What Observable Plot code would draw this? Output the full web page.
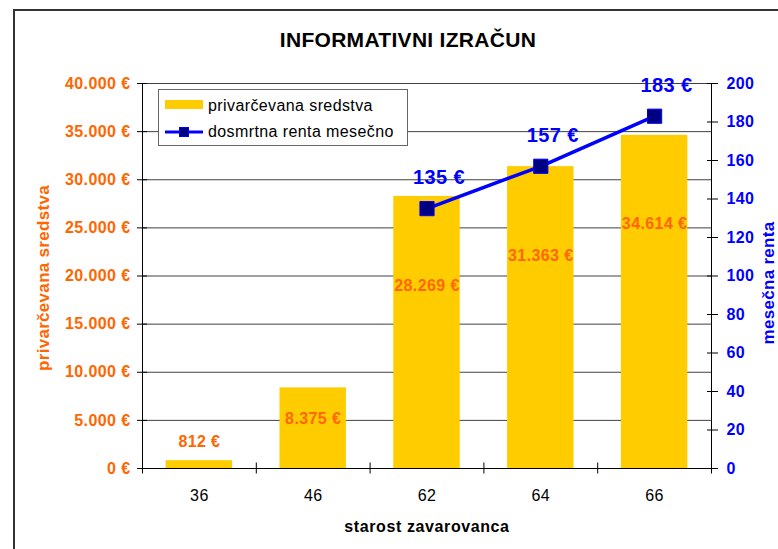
<!DOCTYPE html>
<html>
<head>
<meta charset="utf-8">
<script src="https://cdn.jsdelivr.net/npm/d3@7"></script>
<script src="https://cdn.jsdelivr.net/npm/@observablehq/plot@0.6"></script>
<style>
  body { margin: 0; background: #fff; font-family: "Liberation Sans", Arial, sans-serif; }
  #wrap { position: relative; width: 778px; height: 549px; overflow: hidden; background: #fff; }
  #frame { position: absolute; left: 13px; top: 9px; width: 900px; height: 700px; border: 2px solid #333; }
  #chart { position: absolute; left: 0; top: 65px; }
  #title { position: absolute; left: 0; top: 28px; width: 778px; padding-left: 38px; box-sizing: border-box;
           text-align: center; font-weight: bold; font-size: 21px; line-height: 24px; letter-spacing: 0.3px; color: #000; }
  .rot { position: absolute; white-space: nowrap; font-weight: bold; font-size: 17px; line-height: 17px;
         transform: translate(-50%, -50%) rotate(-90deg); letter-spacing: 0.3px; }
  #xtitle { position: absolute; left: 0; top: 517px; width: 854px; text-align: center; font-weight: bold;
            font-size: 16px; line-height: 20px; letter-spacing: 0.6px; color: #000; }
  #legend { position: absolute; left: 158px; top: 89px; width: 248px; height: 55px; border: 1px solid #666; background: #fff; }
  .lg { position: absolute; font-size: 16px; line-height: 20px; letter-spacing: 0.4px; color: #000; white-space: nowrap; }
</style>
</head>
<body>
<div id="wrap">
  <div id="frame"></div>
  <div id="title">INFORMATIVNI IZRAČUN</div>
  <div id="chart"></div>
  <div class="rot" style="left:43px; top:278px; color:#FF6600;">privarčevana sredstva</div>
  <div class="rot" style="left:768px; top:283px; color:#0000FF;">mesečna renta</div>
  <div id="xtitle">starost zavarovanca</div>
  <div id="legend"></div>
</div>
<script>
// ---- data ----
const ages = ["36", "46", "62", "64", "66"];
const savings = [812, 8375, 28269, 31363, 34614];      // privarčevana sredstva (€)
const rent = [null, null, 135, 157, 183];              // dosmrtna renta mesečno (€)
const leftTicks = [0, 5000, 10000, 15000, 20000, 25000, 30000, 35000, 40000];
const rightTicks = [0, 20, 40, 60, 80, 100, 120, 140, 160, 180, 200];
const seriesNames = ["privarčevana sredstva", "dosmrtna renta mesečno"];

// ---- derived ----
const K = leftTicks[leftTicks.length - 1] / rightTicks[rightTicks.length - 1]; // 200
const data = ages.map((age, i) => ({ i, age, value: savings[i], rent: rent[i] }));
const rentData = data.filter(d => d.rent != null);
const bounds = [-0.5, ...data.map(d => d.i + 0.5)];
const loc = d3.formatLocale({ decimal: ",", thousands: ".", grouping: [3], currency: ["", " €"] });
const fmt = loc.format(",.0f");
const euro = v => fmt(v) + " €";

const ORANGE = "#FF6600", BLUE = "#0000FF", NAVY = "#000080", GOLD = "#FFCC00";
const half = 0.292;

const chart = Plot.plot({
  width: 778,
  height: 484,
  marginTop: 18,
  marginBottom: 81,
  marginLeft: 142,
  marginRight: 67,
  x: { type: "linear", domain: [-0.5, ages.length - 0.5], axis: null },
  y: { domain: [0, 40000], axis: null },
  style: { fontFamily: '"Liberation Sans", Arial, sans-serif', fontSize: "16px", background: "transparent", overflow: "visible" },
  marks: [
    Plot.gridY(leftTicks.filter(v => v > 0), { stroke: "#404040", strokeOpacity: 1, strokeWidth: 1 }),
    Plot.rectY(data, { x1: d => d.i - half, x2: d => d.i + half, y: "value", fill: GOLD }),
    // axis lines
    Plot.ruleX([-0.5], { stroke: "#000" }),
    Plot.ruleX([ages.length - 0.5], { stroke: "#000" }),
    Plot.ruleY([0], { stroke: "#000" }),
    // left axis
    Plot.axisY(leftTicks, { anchor: "left", tickSize: 10, dx: 5, tickFormat: () => "", label: null, stroke: "#000" }),
    Plot.axisY(leftTicks, { anchor: "left", tickSize: 0, tickPadding: 12, tickFormat: euro, label: null,
      fill: ORANGE, fontWeight: "bold", fontSize: 16 }),
    // right axis
    Plot.axisY(rightTicks.map(v => v * K), { anchor: "right", tickSize: 11, dx: -5, tickFormat: () => "", label: null, stroke: "#000" }),
    Plot.axisY(rightTicks.map(v => v * K), { anchor: "right", tickSize: 0, tickPadding: 15, tickFormat: d => d / K, label: null,
      fill: BLUE, fontWeight: "bold", fontSize: 16 }),
    // x axis
    Plot.axisX(bounds, { anchor: "bottom", tickSize: 11, dy: -5.5, tickFormat: () => "", label: null, stroke: "#000" }),
    Plot.axisX(data.map(d => d.i), { anchor: "bottom", tickSize: 0, tickPadding: 21, tickFormat: i => ages[i], label: null,
      fill: "#000", fontSize: 16 }),
    // bar labels
    Plot.text(data.filter(d => d.value < 2000), { x: "i", y: "value", text: d => euro(d.value), dy: -19,
      fill: ORANGE, fontWeight: "bold", fontSize: 16 }),
    Plot.text(data.filter(d => d.value >= 2000 && d.value < 20000), { x: "i", y: "value", text: d => euro(d.value), dy: 31,
      fill: ORANGE, fontWeight: "bold", fontSize: 16 }),
    Plot.text(data.filter(d => d.value >= 20000), { x: "i", y: "value", text: d => euro(d.value), dy: 89,
      fill: ORANGE, fontWeight: "bold", fontSize: 16 }),
    // rent line
    Plot.line(rentData, { x: "i", y: d => d.rent * K, stroke: BLUE, strokeWidth: 3.5 }),
    Plot.dot(rentData, { x: "i", y: d => d.rent * K, symbol: "square", r: 8, fill: NAVY, stroke: BLUE, strokeWidth: 1 }),
    Plot.text(rentData, { x: "i", y: d => d.rent * K, text: d => `${d.rent} €`, dx: 12, dy: -31,
      fill: BLUE, fontWeight: "bold", fontSize: 20 })
  ]
});
chart.style.letterSpacing = "0.4px";
document.getElementById("chart").appendChild(chart);

// legend
const lg = document.getElementById("legend");
lg.innerHTML = `
  <div style="position:absolute; left:6px; top:10px; width:38px; height:9px; background:${GOLD};"></div>
  <div class="lg" style="left:49px; top:6px;">${seriesNames[0]}</div>
  <svg style="position:absolute; left:6px; top:36px;" width="38" height="12">
    <line x1="0" y1="6" x2="38" y2="6" stroke="${BLUE}" stroke-width="3"></line>
    <rect x="14.5" y="1.5" width="9" height="9" fill="${NAVY}" stroke="${BLUE}" stroke-width="1"></rect>
  </svg>
  <div class="lg" style="left:49px; top:32px;">${seriesNames[1]}</div>
`;
</script>
</body>
</html>
